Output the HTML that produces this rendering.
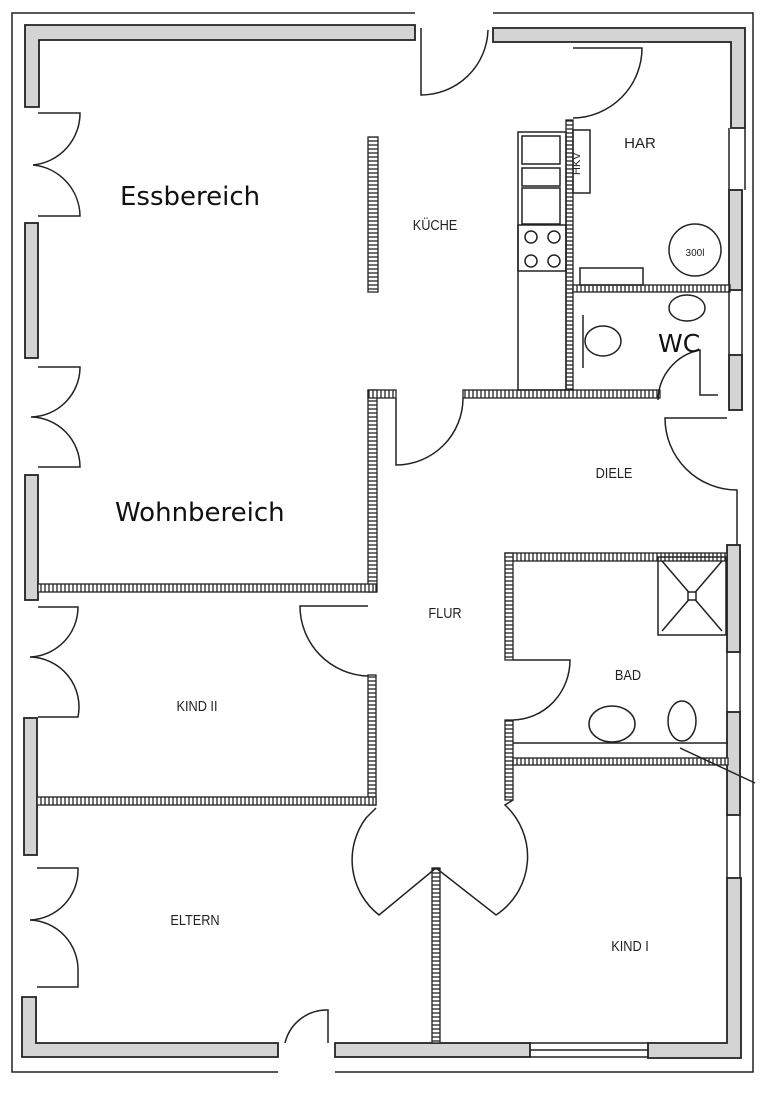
<!DOCTYPE html>
<html><head><meta charset="utf-8"><style>
html,body{margin:0;padding:0;background:#fff;}
svg{display:block;}
.s{font-family:"Liberation Sans",sans-serif;font-size:15px;fill:#222;}
.b{font-family:"DejaVu Sans","Liberation Sans",sans-serif;font-size:26px;fill:#111;}
</style></head><body>
<svg width="768" height="1093" viewBox="0 0 768 1093" xmlns="http://www.w3.org/2000/svg">
<defs>
<pattern id="hv" width="4" height="8" patternUnits="userSpaceOnUse"><rect width="4" height="8" fill="#fff"/><line x1="1" y1="0" x2="1" y2="8" stroke="#222" stroke-width="1.3"/></pattern>
<pattern id="hh" width="8" height="4" patternUnits="userSpaceOnUse"><rect width="8" height="4" fill="#fff"/><line x1="0" y1="1" x2="8" y2="1" stroke="#222" stroke-width="1.3"/></pattern>
</defs>
<g fill="none" stroke="#222" stroke-width="1.5">
<!-- outer thin line -->
<path d="M12 40 V13 H415 M493 13 H753 V1072 H335 M278 1072 H12 V40"/>
</g>
<!-- gray outer walls -->
<g fill="#d4d4d4" stroke="#222" stroke-width="1.8">
<path d="M25 25 H415 V40 H39 V107 H25 Z"/>
<path d="M493 28 H745 V128 H731 V42 H493 Z"/>
<rect x="25" y="223" width="13" height="135"/>
<rect x="25" y="475" width="13" height="125"/>
<rect x="24" y="718" width="13" height="137"/>
<path d="M22 997 H36 V1043 H278 V1057 H22 Z"/>
<rect x="335" y="1043" width="195" height="14"/>
<path d="M648 1043 H727 V878 H741 V1058 H648 Z"/>
<rect x="729" y="190" width="13" height="100"/>
<rect x="729" y="355" width="13" height="55"/>
<rect x="727" y="545" width="13" height="107"/>
<rect x="727" y="712" width="13" height="103"/>
</g>
<!-- hatched interior walls -->
<g stroke="#222" stroke-width="1.3">
<rect x="368" y="137" width="10" height="155" fill="url(#hh)"/>
<rect x="368" y="390" width="9" height="202" fill="url(#hh)"/>
<rect x="368" y="390" width="28" height="8" fill="url(#hv)"/>
<rect x="38" y="584" width="338" height="8" fill="url(#hv)"/>
<rect x="368" y="675" width="8" height="130" fill="url(#hh)"/>
<rect x="37" y="797" width="339" height="8" fill="url(#hv)"/>
<rect x="432" y="868" width="8" height="175" fill="url(#hh)"/>
<rect x="463" y="390" width="197" height="8" fill="url(#hv)"/>
<rect x="566" y="120" width="7" height="270" fill="url(#hh)"/>
<rect x="573" y="285" width="157" height="7" fill="url(#hv)"/>
<rect x="505" y="553" width="222" height="8" fill="url(#hv)"/>
<rect x="505" y="553" width="8" height="107" fill="url(#hh)"/>
<rect x="505" y="720" width="8" height="80" fill="url(#hh)"/>
<rect x="513" y="758" width="215" height="7" fill="url(#hv)"/>
</g>
<g fill="none" stroke="#222" stroke-width="1.5">
<!-- left double doors -->
<path d="M38 113 H80 A52 52 0 0 1 33 165 A52 52 0 0 1 80 216 H38"/>
<path d="M38 367 H80 A50 50 0 0 1 31 417 A50 50 0 0 1 80 467 H38"/>
<path d="M38 607 H78 A50 50 0 0 1 30 657 A50 50 0 0 1 78 717 H38"/>
<path d="M37 868 H78 A50 50 0 0 1 30 920 A50 50 0 0 1 78 972 V987 H37"/>
<!-- top door -->
<path d="M421 28 V95 A67 67 0 0 0 488 30"/>
<!-- HAR door -->
<path d="M573 48 H642 A70 70 0 0 1 573 118"/>
<!-- kitchen/flur door -->
<path d="M396 398 V465 A67 67 0 0 0 463 398"/>
<!-- Kind II door -->
<path d="M368 606 H300 A70 70 0 0 0 368 676"/>
<!-- Bad door -->
<path d="M513 660 H570 A58 60 0 0 1 513 720"/>
<!-- Eltern / Kind I double doors -->
<path d="M376 808 L366 818 A70 70 0 0 0 379 915 L436 868 L496 915 A70 70 0 0 0 505 805 L513 800"/>
<!-- bottom door -->
<path d="M328 1043 V1010 A43 43 0 0 0 285 1043"/>
<!-- Diele entry door -->
<path d="M727 418 H665 A72 72 0 0 0 737 490 V545"/>
<!-- WC door -->
<path d="M658 400 A52 52 0 0 1 700 350 V395 H718"/>
<!-- kitchen counter -->
<rect x="518" y="132" width="48" height="258"/>
<rect x="522" y="136" width="38" height="28"/>
<rect x="522" y="168" width="38" height="18"/>
<rect x="522" y="188" width="38" height="36"/>
<rect x="518" y="225" width="48" height="46"/>
<circle cx="531" cy="237" r="6"/><circle cx="554" cy="237" r="6"/>
<circle cx="531" cy="261" r="6"/><circle cx="554" cy="261" r="6"/>
<rect x="573" y="130" width="17" height="63"/>
<rect x="580" y="268" width="63" height="17"/>
<circle cx="695" cy="250" r="26"/>
<!-- WC fixtures -->
<line x1="583" y1="315" x2="583" y2="368"/>
<ellipse cx="603" cy="341" rx="18" ry="15"/>
<ellipse cx="687" cy="308" rx="18" ry="13"/>
<!-- Bad fixtures -->
<rect x="658" y="557" width="68" height="78"/>
<path d="M662 561 L722 631 M722 561 L662 631"/>
<rect x="688" y="592" width="8" height="8" fill="#fff"/>
<ellipse cx="612" cy="724" rx="23" ry="18"/>
<ellipse cx="682" cy="721" rx="14" ry="20"/>
<line x1="513" y1="743" x2="728" y2="743"/>
<line x1="680" y1="748" x2="755" y2="783"/>
<!-- windows -->
<path d="M745 128 V190 M729 128 V190 M742 290 V355 M729 290 V355 M740 652 V712 M727 652 V712 M740 815 V878 M727 815 V878 M530 1057 H648 M530 1043 H648 M530 1050 H648"/>
</g>
<text x="120" y="205" class="b">Essbereich</text>
<text x="115" y="521" class="b">Wohnbereich</text>
<text x="658" y="352" class="b" style="font-size:25px">WC</text>
<g class="s" text-anchor="middle">
<text x="435" y="230" transform="translate(435 0) scale(0.85 1) translate(-435 0)">KÜCHE</text>
<text x="640" y="148">HAR</text>
<text x="695" y="256" style="font-size:10px">300l</text>
<text x="614" y="478" transform="translate(614 0) scale(0.85 1) translate(-614 0)">DIELE</text>
<text x="445" y="618" transform="translate(445 0) scale(0.85 1) translate(-445 0)">FLUR</text>
<text x="628" y="680" transform="translate(628 0) scale(0.85 1) translate(-628 0)">BAD</text>
<text x="197" y="711" transform="translate(197 0) scale(0.85 1) translate(-197 0)">KIND II</text>
<text x="195" y="925" transform="translate(195 0) scale(0.85 1) translate(-195 0)">ELTERN</text>
<text x="630" y="951" transform="translate(630 0) scale(0.85 1) translate(-630 0)">KIND I</text>
</g>
<text x="580" y="175" class="s" style="font-size:11px" transform="rotate(-90 580 175)">HKV</text>
</svg>
</body></html>
